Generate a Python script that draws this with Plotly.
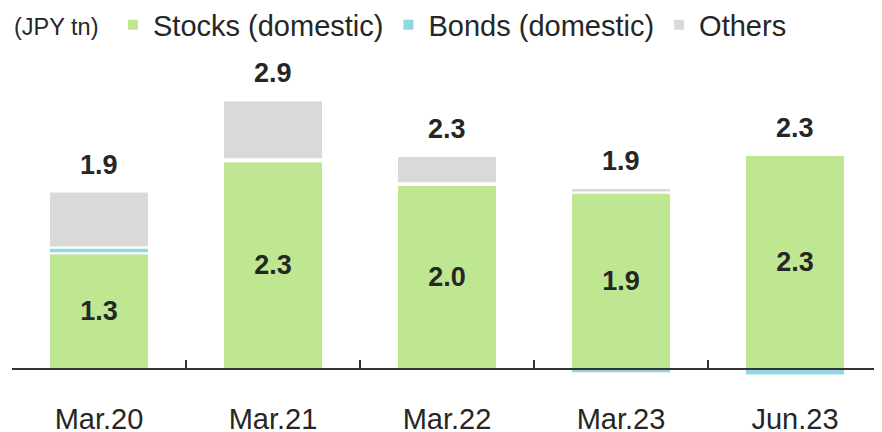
import plotly.graph_objects as go

categories = ["Mar.20", "Mar.21", "Mar.22", "Mar.23", "Jun.23"]
stocks = [1.26, 2.26, 2.00, 1.92, 2.33]
bonds = [0.06, 0.02, 0.02, -0.045, -0.07]
others = [0.61, 0.64, 0.295, 0.047, 0.0]
totals = [1.9, 2.9, 2.3, 1.9, 2.3]

GREEN = "#BFE691"
BLUE = "#92D6E3"
GREY = "#D9D9D9"
TXT = "#262626"
FONT = "Liberation Sans, Arial, sans-serif"

# the page body adds an 8px margin, so the figure is sized to fill the 882x432 window
W, H = 874, 424

fig = go.Figure()
line = dict(color="white", width=2)
fig.add_trace(go.Bar(
    x=categories, y=stocks, name="Stocks (domestic)",
    marker=dict(color=GREEN, line=line),
    texttemplate="%{y:.1f}", textposition="inside", insidetextanchor="middle",
    textfont=dict(family=FONT, size=27, color=TXT, weight="bold"),
    textangle=0,
))
fig.add_trace(go.Bar(
    x=categories, y=bonds, name="Bonds (domestic)",
    marker=dict(color=BLUE, line=line), textposition="none",
))
fig.add_trace(go.Bar(
    x=categories, y=others, name="Others",
    marker=dict(color=GREY, line=line), textposition="none",
))

# total labels above the positive stack
for c, s, b, o, t in zip(categories, stocks, bonds, others, totals):
    top = sum(v for v in (s, b, o) if v > 0)
    fig.add_annotation(
        x=c, y=top, text=f"{t:.1f}", showarrow=False, yanchor="middle", yshift=27,
        font=dict(family=FONT, size=27, color=TXT, weight="bold"),
    )

fig.add_annotation(
    xref="paper", yref="paper", x=0, y=1.0994, xanchor="left", yanchor="middle",
    text="(JPY tn)", showarrow=False, font=dict(family=FONT, size=23.5, color=TXT),
)

ymin, ymax = -0.25, 3.36
fig.update_layout(
    width=W, height=H,
    margin=dict(l=4, r=0, t=52, b=40, autoexpand=False),
    paper_bgcolor="white", plot_bgcolor="white",
    barmode="relative", bargap=0.425,
    font=dict(family=FONT, color=TXT),
    showlegend=True,
    legend=dict(
        orientation="h", xref="container", yref="container",
        x=105 / W, xanchor="left", y=1 - 17 / H, yanchor="middle",
        font=dict(family=FONT, size=29, color=TXT), traceorder="normal",
        bgcolor="rgba(0,0,0,0)", itemclick=False,
    ),
    xaxis=dict(
        anchor="free", position=-ymin / (ymax - ymin), automargin=False,
        showline=True, linecolor="#333333", linewidth=2,
        ticks="inside", tickson="boundaries", ticklen=8, tickwidth=1.5, tickcolor="#333333",
        ticklabelstandoff=24, tickfont=dict(family=FONT, size=29, color=TXT),
        range=[-0.5, 4.5], showgrid=False, zeroline=False,
    ),
    yaxis=dict(range=[ymin, ymax], visible=False, showgrid=False, zeroline=False,
               automargin=False),
)

fig.write_html("out.html")
